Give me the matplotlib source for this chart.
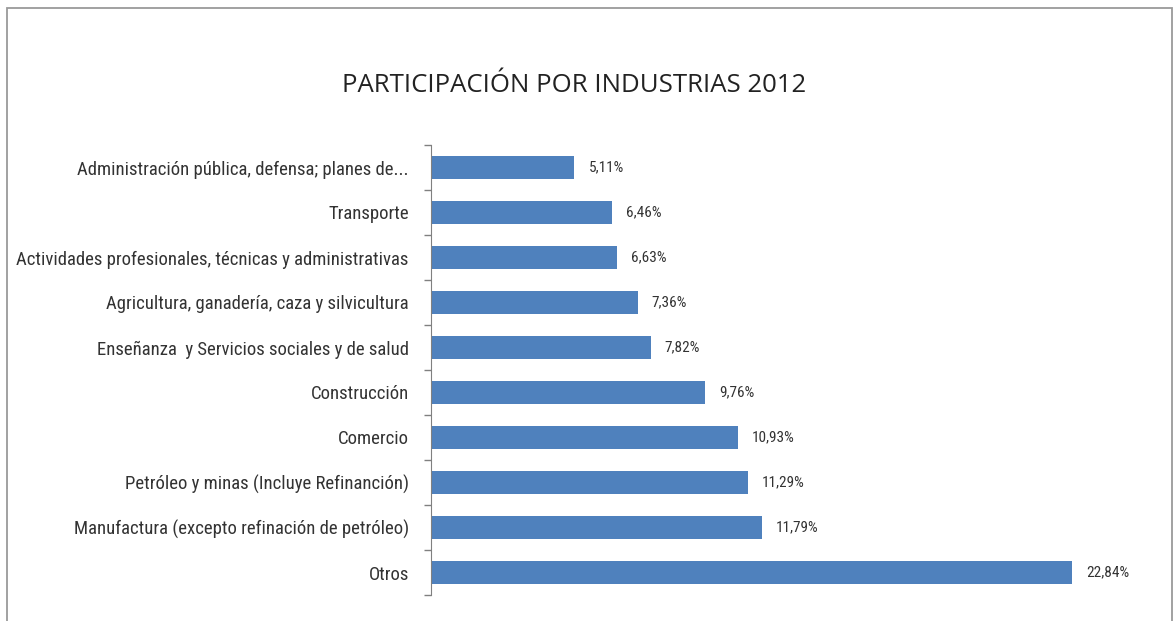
import matplotlib.pyplot as plt
from matplotlib.patches import Rectangle

# Industry shares for 2012 (percent), top to bottom as shown
industrias = [
    "Administración pública, defensa; planes de...",
    "Transporte",
    "Actividades profesionales, técnicas y administrativas",
    "Agricultura, ganadería, caza y silvicultura",
    "Enseñanza  y Servicios sociales y de salud",
    "Construcción",
    "Comercio",
    "Petróleo y minas (Incluye Refinanción)",
    "Manufactura (excepto refinación de petróleo)",
    "Otros",
]
participacion = [5.11, 6.46, 6.63, 7.36, 7.82, 9.76, 10.93, 11.29, 11.79, 22.84]

narrow = ["Roboto Condensed", "Liberation Sans Narrow", "Roboto", "DejaVu Sans"]

bar_color = "#4f81bd"
text_color = "#333333"

fig = plt.figure(figsize=(11.75, 6.21), dpi=100)
fig.patches.append(Rectangle((7 / 1175, -0.01), (1172 - 7) / 1175, 1 - 8 / 621 + 0.01,
                             transform=fig.transFigure, fill=False,
                             edgecolor="#9a9a9a", linewidth=1.3))

ax = fig.add_axes([431 / 1175, 1 - 595 / 621, 702 / 1175, 450 / 621])

ypos = list(range(len(industrias)))
ax.barh(ypos, participacion, height=0.52, color=bar_color)
ax.set_xlim(0, 25)
ax.set_ylim(len(industrias) - 0.5, -0.5)

# category labels, ticks sit between categories
ax.set_yticks(ypos)
ax.set_yticklabels(industrias, fontfamily=narrow, fontsize=13.5, color=text_color)
ax.tick_params(axis="y", length=0, pad=16)
ax.set_yticks([y - 0.5 for y in ypos] + [len(ypos) - 0.5], minor=True)
ax.tick_params(axis="y", which="minor", length=5, width=1, color="#808080", direction="out")
ax.set_xticks([])

for side in ["top", "right", "bottom"]:
    ax.spines[side].set_visible(False)
ax.spines["left"].set_color("#808080")

for y, v in zip(ypos, participacion):
    ax.text(v + 0.5, y, f"{v:.2f}%".replace(".", ","), va="center", ha="left",
            fontfamily=narrow, fontsize=11, color=text_color)

fig.text(574 / 1175, 1 - 85 / 621, "PARTICIPACIÓN POR INDUSTRIAS 2012",
         ha="center", va="center", fontfamily="Open Sans", fontsize=18.5, color="#222222")

fig.savefig("out.png", dpi=100, facecolor="white")
